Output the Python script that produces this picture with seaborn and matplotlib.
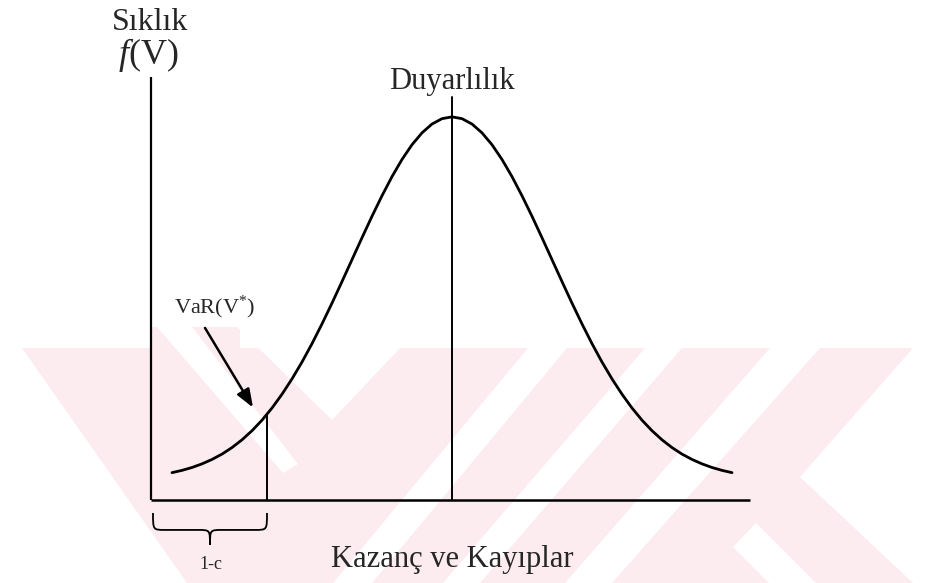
import numpy as np
import matplotlib
matplotlib.use("Agg")
import matplotlib.pyplot as plt
from matplotlib.patches import Polygon, PathPatch
from matplotlib.path import Path
import seaborn as sns
import pandas as pd

sns.set_style("white")
plt.rcParams["font.family"] = ["Liberation Serif", "DejaVu Serif"]
plt.rcParams["mathtext.fontset"] = "custom"
plt.rcParams["mathtext.rm"] = "Liberation Serif"
plt.rcParams["mathtext.it"] = "Liberation Serif:italic"

# Profit / loss axis positions and the frequency curve f(V)
pnl = [-2.8, -2.7, -2.6, -2.5, -2.4, -2.3, -2.2, -2.1, -2.0, -1.9, -1.8, -1.7,
       -1.6, -1.5, -1.4, -1.3, -1.2, -1.1, -1.0, -0.9, -0.8, -0.7, -0.6, -0.5,
       -0.4, -0.3, -0.2, -0.1, 0.0, 0.1, 0.2, 0.3, 0.4, 0.5, 0.6, 0.7, 0.8,
       0.9, 1.0, 1.1, 1.2, 1.3, 1.4, 1.5, 1.6, 1.7, 1.8, 1.9, 2.0, 2.1, 2.2,
       2.3, 2.4, 2.5, 2.6, 2.7, 2.8]
freq = [0.0285, 0.0309, 0.0339, 0.0377, 0.0423, 0.0479, 0.0547, 0.0628, 0.0723,
        0.0833, 0.0960, 0.1104, 0.1264, 0.1440, 0.1632, 0.1838, 0.2055, 0.2280,
        0.2509, 0.2738, 0.2962, 0.3176, 0.3376, 0.3555, 0.3709, 0.3833, 0.3925,
        0.3981, 0.4000, 0.3981, 0.3925, 0.3833, 0.3709, 0.3555, 0.3376, 0.3176,
        0.2962, 0.2738, 0.2509, 0.2280, 0.2055, 0.1838, 0.1632, 0.1440, 0.1264,
        0.1104, 0.0960, 0.0833, 0.0723, 0.0628, 0.0547, 0.0479, 0.0423, 0.0377,
        0.0339, 0.0309, 0.0285]

var_level = -1.85        # VaR(V*) cut-off
center_level = 0.0       # sensitivity (mean) line
x_axis_range = [-3.01, 2.98]
y_axis_top = 0.4416
center_line_top = 0.421

W, H = 933, 583
fig = plt.figure(figsize=(W / 100, H / 100), dpi=100)
fig.patch.set_facecolor("white")

# faint background watermark (pixel outline, converted to figure fractions)
pink = "#fcebef"
white = "white"
def fig_poly(pts, color):
    p = Polygon([(x / W, 1 - y / H) for x, y in pts], closed=True,
                transform=fig.transFigure, facecolor=color, edgecolor="none",
                zorder=0)
    fig.add_artist(p)

fig_poly([(0, 348), (152, 348), (152, 327), (240, 327), (240, 348),
          (933, 348), (933, 583), (0, 583)], pink)
fig_poly([(0, 348), (22, 348), (187, 583), (0, 583)], white)
fig_poly([(157, 327), (192, 327), (298, 464), (283, 473)], white)
fig_poly([(237, 327), (420, 327), (332, 420)], white)
fig_poly([(333, 583), (372, 583), (567, 348), (528, 348)], white)
fig_poly([(443, 583), (480, 583), (682, 348), (645, 348)], white)
fig_poly([(565, 583), (612, 583), (820, 348), (770, 348)], white)
fig_poly([(913, 348), (933, 348), (933, 583), (913, 583), (800, 477)], white)
fig_poly([(733, 547), (756, 523), (816, 583), (769, 583)], white)

ax = fig.add_axes([0, 0, 1, 1])
ax.patch.set_alpha(0)
ax.set_xlim(-4.52, 4.81)
ax.set_ylim(-0.0867, 0.522)
ax.axis("off")

df = pd.DataFrame({"pnl": pnl, "freq": freq})
sns.lineplot(data=df, x="pnl", y="freq", ax=ax, color="black", lw=2.0,
             sort=False, zorder=3)

# axes of the sketch
ax.plot([x_axis_range[0], x_axis_range[0]], [0, y_axis_top], color="black",
        lw=1.6, zorder=3, solid_capstyle="butt")
ax.plot(x_axis_range, [0, 0], color="black", lw=1.8, zorder=3,
        solid_capstyle="butt")

# sensitivity line through the peak and the VaR cut-off line
ax.plot([center_level, center_level], [0, center_line_top], color="black",
        lw=1.4, zorder=3)
var_top = float(np.interp(var_level, pnl, freq))
ax.plot([var_level, var_level], [0, var_top], color="black", lw=1.4, zorder=3)

# arrow pointing to the VaR point on the curve
ax.annotate("", xy=(-1.99, 0.0965), xytext=(-2.47, 0.1796),
            arrowprops=dict(arrowstyle="-|>,head_length=1.1,head_width=0.42",
                            color="black", lw=1.8, shrinkA=0, shrinkB=0),
            zorder=4)

# curly brace under the tail region
x0, x1 = x_axis_range[0] + 0.02, var_level
xm = (x0 + x1) / 2
ytop, ymid, ytip = -0.0136, -0.0313, -0.047
r = 0.12
verts = [(x0, ytop), (x0, ymid), (x0, ymid), (x0 + r, ymid),
         (xm - r, ymid),
         (xm, ymid), (xm, ymid), (xm, ytip),
         (xm, ymid), (xm, ymid), (xm + r, ymid),
         (x1 - r, ymid),
         (x1, ymid), (x1, ymid), (x1, ytop)]
codes = [Path.MOVETO, Path.CURVE4, Path.CURVE4, Path.CURVE4,
         Path.LINETO,
         Path.CURVE4, Path.CURVE4, Path.CURVE4,
         Path.CURVE4, Path.CURVE4, Path.CURVE4,
         Path.LINETO,
         Path.CURVE4, Path.CURVE4, Path.CURVE4]
ax.add_patch(PathPatch(Path(verts, codes), facecolor="none", edgecolor="black",
                       lw=1.3, zorder=3))

# labels
ax.text(-3.02, 0.4910, "Sıklık", ha="center", va="baseline", fontsize=23)
ax.text(-3.04, 0.4550, "$f$(V)", ha="center", va="baseline", fontsize=26)
ax.text(0.0, 0.4290, "Duyarlılık", ha="center", va="baseline", fontsize=22)
ax.text(-2.37, 0.1945, "VaR(V$^{*}$)", ha="center", va="baseline", fontsize=16)
ax.text(-2.41, -0.0717, "1-c", ha="center", va="baseline", fontsize=13)
ax.text(0.0, -0.0700, "Kazanç ve Kayıplar", ha="center", va="baseline",
        fontsize=22)

fig.savefig("out.png", dpi=100, facecolor="white")
